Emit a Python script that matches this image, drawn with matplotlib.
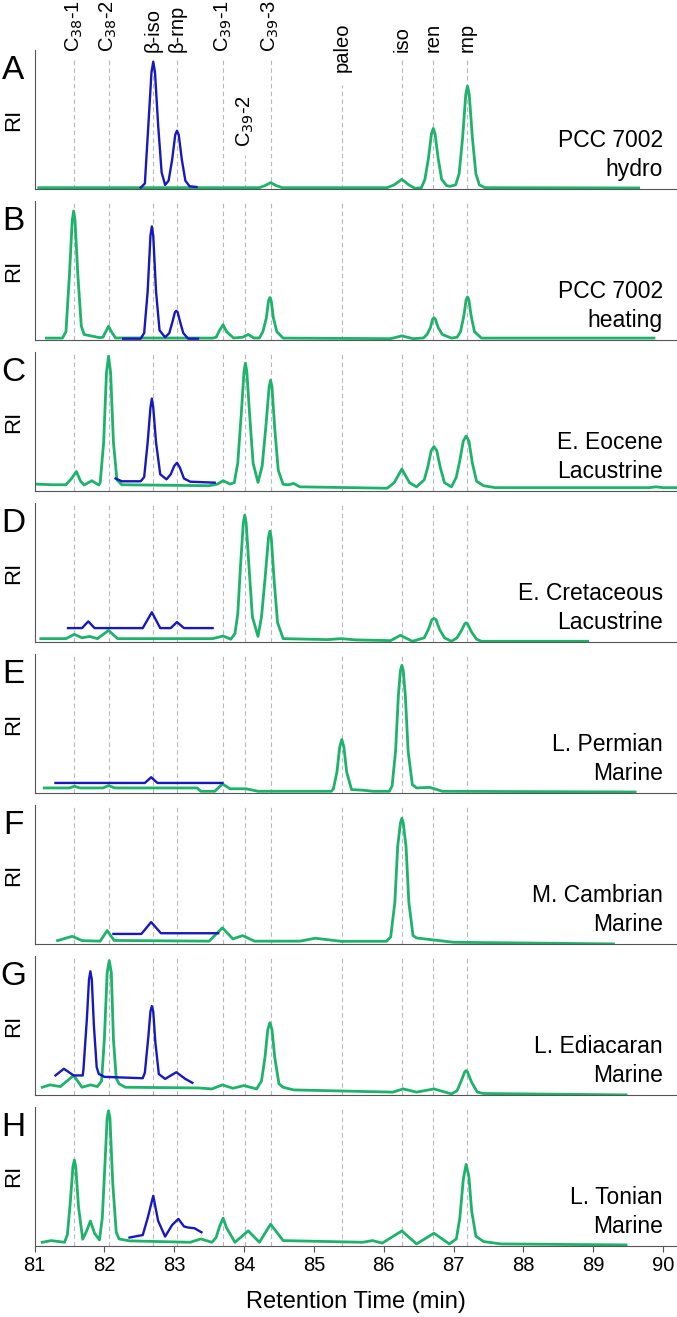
import matplotlib
matplotlib.use("Agg")
import matplotlib.pyplot as plt
import matplotlib.transforms as mtransforms

plt.rcParams['font.family'] = ['Liberation Sans', 'DejaVu Sans']

# compound positions (min) and labels
peak_names = ['C$_{38}$-1', 'C$_{38}$-2', 'β-iso', 'β-rnp', 'C$_{39}$-1', 'C$_{39}$-2',
              'C$_{39}$-3', 'paleo', 'iso', 'ren', 'rnp']
peak_rt = [81.57, 82.06, 82.70, 83.04, 83.70, 84.02, 84.38, 85.41, 86.26, 86.71, 87.20]

panel_letters = ['A', 'B', 'C', 'D', 'E', 'F', 'G', 'H']
samples = ['PCC 7002\nhydro', 'PCC 7002\nheating', 'E. Eocene\nLacustrine',
           'E. Cretaceous\nLacustrine', 'L. Permian\nMarine', 'M. Cambrian\nMarine',
           'L. Ediacaran\nMarine', 'L. Tonian\nMarine']

# traces: (retention time, relative intensity)
green_a = [(81.06, 0.01), (84.22, 0.01), (84.30, 0.025), (84.38, 0.046), (84.46, 0.025), (84.55, 0.01),
           (86.05, 0.01), (86.15, 0.03), (86.26, 0.07), (86.36, 0.03), (86.45, 0.005),
           (86.54, 0.01), (86.59, 0.07), (86.64, 0.22), (86.685, 0.40), (86.71, 0.436), (86.735, 0.40),
           (86.78, 0.22), (86.83, 0.07), (86.90, 0.025), (86.95, 0.02),
           (87.03, 0.03), (87.08, 0.11), (87.13, 0.37), (87.175, 0.68), (87.20, 0.741), (87.225, 0.68),
           (87.27, 0.37), (87.32, 0.11), (87.37, 0.03), (87.45, 0.01), (89.65, 0.008)]
blue_a = [(82.52, 0.01), (82.58, 0.04), (82.63, 0.46), (82.675, 0.84), (82.70, 0.916), (82.725, 0.84),
          (82.77, 0.46), (82.82, 0.12), (82.87, 0.03), (82.92, 0.06), (82.97, 0.21), (83.015, 0.39),
          (83.04, 0.42), (83.065, 0.39), (83.11, 0.21), (83.16, 0.06), (83.22, 0.02), (83.32, 0.015)]

green_b = [(81.17, 0.014), (81.40, 0.014), (81.45, 0.06), (81.50, 0.47), (81.54, 0.86), (81.56, 0.928),
           (81.58, 0.86), (81.62, 0.47), (81.67, 0.10), (81.71, 0.04), (81.93, 0.017),
           (81.98, 0.02), (82.02, 0.06), (82.06, 0.10), (82.10, 0.06), (82.16, 0.015),
           (83.55, 0.014), (83.60, 0.02), (83.65, 0.07), (83.70, 0.11), (83.75, 0.06), (83.85, 0.015),
           (83.98, 0.02), (84.06, 0.04), (84.14, 0.015),
           (84.22, 0.015), (84.27, 0.06), (84.32, 0.16), (84.35, 0.28), (84.37, 0.306), (84.39, 0.28),
           (84.42, 0.16), (84.47, 0.06), (84.56, 0.014), (86.10, 0.01), (86.26, 0.03), (86.42, 0.01),
           (86.57, 0.015), (86.62, 0.04), (86.67, 0.09), (86.70, 0.15), (86.72, 0.16), (86.74, 0.15),
           (86.78, 0.09), (86.84, 0.04), (86.97, 0.014),
           (87.05, 0.02), (87.10, 0.06), (87.15, 0.18), (87.18, 0.29), (87.20, 0.31), (87.22, 0.29),
           (87.25, 0.18), (87.30, 0.06), (87.40, 0.014), (89.87, 0.014)]
blue_b = [(82.27, 0.01), (82.52, 0.01), (82.57, 0.05), (82.62, 0.35), (82.66, 0.75), (82.68, 0.817),
          (82.70, 0.75), (82.74, 0.35), (82.79, 0.07), (82.87, 0.02), (82.93, 0.05), (82.98, 0.14),
          (83.01, 0.20), (83.03, 0.21), (83.05, 0.20), (83.08, 0.14), (83.13, 0.05), (83.20, 0.01),
          (83.34, 0.01)]

green_c = [(81.01, 0.05), (81.25, 0.045), (81.45, 0.045), (81.53, 0.09), (81.60, 0.14), (81.66, 0.07),
           (81.71, 0.043), (81.82, 0.074), (81.92, 0.043),
           (81.94, 0.06), (81.99, 0.35), (82.03, 0.85), (82.06, 0.969), (82.09, 0.85), (82.13, 0.35),
           (82.18, 0.08), (82.25, 0.045), (83.50, 0.038), (83.62, 0.05), (83.70, 0.074), (83.80, 0.05),
           (83.86, 0.06), (83.91, 0.20), (83.96, 0.55), (84.00, 0.86), (84.02, 0.92), (84.04, 0.86),
           (84.08, 0.55), (84.13, 0.20), (84.20, 0.062),
           (84.26, 0.18), (84.31, 0.45), (84.36, 0.75), (84.38, 0.797), (84.40, 0.75), (84.44, 0.45),
           (84.49, 0.15), (84.56, 0.048), (84.64, 0.045), (84.71, 0.055), (84.80, 0.03),
           (86.05, 0.02), (86.15, 0.06), (86.26, 0.158), (86.37, 0.06), (86.47, 0.03),
           (86.58, 0.08), (86.63, 0.17), (86.68, 0.29), (86.72, 0.32), (86.76, 0.29), (86.81, 0.17),
           (86.87, 0.06), (86.97, 0.03),
           (87.04, 0.10), (87.09, 0.22), (87.14, 0.36), (87.18, 0.395), (87.22, 0.36), (87.27, 0.20),
           (87.33, 0.07), (87.43, 0.038), (87.60, 0.024), (89.80, 0.024), (89.90, 0.03), (90.00, 0.024),
           (90.20, 0.024)]
blue_c = [(82.16, 0.09), (82.25, 0.07), (82.52, 0.07), (82.57, 0.10), (82.62, 0.35), (82.66, 0.60),
          (82.68, 0.665), (82.70, 0.60), (82.74, 0.35), (82.80, 0.12), (82.89, 0.084), (82.95, 0.12),
          (83.00, 0.18), (83.04, 0.203), (83.08, 0.17), (83.14, 0.09), (83.23, 0.067), (83.58, 0.06)]

green_d = [(81.09, 0.024), (81.45, 0.024), (81.57, 0.055), (81.68, 0.03), (81.79, 0.04), (81.90, 0.024),
           (82.06, 0.083), (82.19, 0.024), (83.55, 0.024), (83.70, 0.043), (83.81, 0.02),
           (83.87, 0.06), (83.91, 0.20), (83.95, 0.55), (83.99, 0.86), (84.01, 0.912), (84.03, 0.86),
           (84.07, 0.55), (84.12, 0.18), (84.20, 0.04),
           (84.25, 0.18), (84.30, 0.45), (84.35, 0.75), (84.37, 0.798), (84.39, 0.75), (84.43, 0.45),
           (84.48, 0.14), (84.56, 0.024), (85.20, 0.017), (85.39, 0.024), (85.60, 0.015), (86.10, 0.01),
           (86.24, 0.048), (86.41, 0.005),
           (86.58, 0.03), (86.64, 0.09), (86.69, 0.16), (86.72, 0.17), (86.75, 0.16), (86.80, 0.09),
           (86.87, 0.03), (86.97, 0.005),
           (87.05, 0.03), (87.11, 0.08), (87.16, 0.13), (87.18, 0.138), (87.20, 0.13), (87.26, 0.07),
           (87.33, 0.02), (87.40, 0.005), (88.92, 0.005)]
blue_d = [(81.48, 0.10), (81.68, 0.10), (81.77, 0.148), (81.86, 0.10), (82.55, 0.10), (82.68, 0.214),
          (82.80, 0.10), (82.95, 0.10), (83.04, 0.143), (83.14, 0.10), (83.55, 0.10)]

green_e = [(81.14, 0.036), (81.50, 0.036), (81.57, 0.048), (81.65, 0.036), (81.98, 0.036), (82.06, 0.053),
           (82.15, 0.036), (83.33, 0.036), (83.38, 0.012), (83.58, 0.012), (83.69, 0.065), (83.80, 0.03),
           (84.03, 0.03), (84.20, 0.012), (85.25, 0.012),
           (85.28, 0.03), (85.33, 0.15), (85.37, 0.33), (85.40, 0.384), (85.43, 0.33), (85.47, 0.15),
           (85.54, 0.024), (85.70, 0.02), (85.85, 0.012), (86.08, 0.012),
           (86.12, 0.05), (86.17, 0.30), (86.21, 0.70), (86.24, 0.88), (86.26, 0.918), (86.28, 0.88),
           (86.31, 0.70), (86.35, 0.30), (86.41, 0.06), (86.47, 0.036), (86.66, 0.04), (86.84, 0.012),
           (89.60, 0.007)]
blue_e = [(81.30, 0.072), (82.58, 0.072), (82.67, 0.113), (82.76, 0.072), (83.69, 0.072)]

green_f = [(81.33, 0.024), (81.54, 0.055), (81.68, 0.024), (81.94, 0.02), (82.04, 0.096), (82.14, 0.025),
           (83.50, 0.02), (83.69, 0.116), (83.84, 0.036), (83.98, 0.06), (84.15, 0.02), (84.80, 0.02),
           (85.02, 0.041), (85.39, 0.019), (86.04, 0.019),
           (86.10, 0.05), (86.16, 0.30), (86.20, 0.70), (86.24, 0.87), (86.26, 0.904), (86.28, 0.87),
           (86.32, 0.70), (86.36, 0.30), (86.42, 0.06), (86.47, 0.043), (86.69, 0.03), (87.00, 0.012),
           (89.29, 0.0)]
blue_f = [(82.13, 0.072), (82.53, 0.072), (82.67, 0.157), (82.81, 0.077), (83.63, 0.077)]

green_g = [(81.11, 0.055), (81.22, 0.072), (81.37, 0.06), (81.56, 0.14), (81.68, 0.055), (81.80, 0.072),
           (81.90, 0.06), (81.96, 0.10), (82.00, 0.40), (82.04, 0.88), (82.07, 0.966), (82.10, 0.88),
           (82.13, 0.40), (82.17, 0.12), (82.21, 0.08), (82.30, 0.055), (83.35, 0.05), (83.54, 0.043),
           (83.69, 0.072), (83.84, 0.048), (84.00, 0.067), (84.18, 0.043),
           (84.25, 0.10), (84.30, 0.27), (84.34, 0.47), (84.37, 0.519), (84.40, 0.47), (84.44, 0.27),
           (84.50, 0.08), (84.56, 0.055), (84.71, 0.036), (86.13, 0.02), (86.28, 0.043), (86.47, 0.02),
           (86.72, 0.043), (86.97, 0.007),
           (87.05, 0.03), (87.11, 0.10), (87.16, 0.165), (87.18, 0.175), (87.20, 0.165), (87.26, 0.09),
           (87.34, 0.02), (87.43, 0.01), (89.47, 0.0)]
blue_g = [(81.30, 0.14), (81.42, 0.188), (81.56, 0.14), (81.69, 0.14),
          (81.70, 0.18), (81.75, 0.55), (81.78, 0.83), (81.80, 0.889), (81.82, 0.83), (81.85, 0.50),
          (81.89, 0.20), (81.92, 0.151), (82.00, 0.13), (82.55, 0.12),
          (82.58, 0.16), (82.63, 0.42), (82.66, 0.60), (82.68, 0.639), (82.70, 0.60), (82.73, 0.38),
          (82.78, 0.15), (82.87, 0.115), (83.03, 0.163), (83.16, 0.115), (83.26, 0.087)]

green_h = [(81.11, 0.026), (81.24, 0.038), (81.43, 0.026),
           (81.47, 0.08), (81.51, 0.30), (81.55, 0.57), (81.57, 0.617), (81.59, 0.57), (81.63, 0.28),
           (81.69, 0.048), (81.74, 0.10), (81.80, 0.179), (81.86, 0.09), (81.93, 0.043),
           (81.97, 0.20), (82.00, 0.50), (82.04, 0.92), (82.06, 0.971), (82.08, 0.92), (82.12, 0.45),
           (82.17, 0.10), (82.21, 0.05), (82.36, 0.036), (83.23, 0.026), (83.38, 0.05), (83.54, 0.026),
           (83.60, 0.06), (83.65, 0.14), (83.70, 0.199), (83.75, 0.13), (83.87, 0.026),
           (84.06, 0.108), (84.22, 0.026), (84.38, 0.156), (84.56, 0.038), (85.70, 0.026),
           (85.84, 0.038), (85.98, 0.02), (86.26, 0.108), (86.47, 0.014), (86.72, 0.091), (86.94, 0.014),
           (87.04, 0.05), (87.09, 0.20), (87.14, 0.48), (87.18, 0.586), (87.22, 0.50), (87.26, 0.25),
           (87.32, 0.07), (87.43, 0.031), (87.68, 0.014), (89.47, 0.007)]
blue_h = [(82.36, 0.06), (82.55, 0.078), (82.62, 0.20), (82.70, 0.36), (82.77, 0.18), (82.87, 0.067),
          (82.97, 0.15), (83.06, 0.194), (83.14, 0.14), (83.20, 0.132), (83.29, 0.127), (83.39, 0.098)]

greens = [green_a, green_b, green_c, green_d, green_e, green_f, green_g, green_h]
blues = [blue_a, blue_b, blue_c, blue_d, blue_e, blue_f, blue_g, blue_h]

GREEN = '#1db36b'
BLUE = '#1818c0'
DASH = '#b8b8b8'

fig = plt.figure(figsize=(6.77, 13.17), dpi=100)
gs = fig.add_gridspec(8, 1, left=0.051, right=1.0, top=0.962, bottom=0.054, hspace=0.086)

axes = []
for i in range(8):
    ax = fig.add_subplot(gs[i])
    axes.append(ax)
    ax.set_xlim(81, 90.2)
    ax.set_ylim(0, 1)
    ax.spines['top'].set_visible(False)
    ax.spines['right'].set_visible(False)
    ax.spines['left'].set_color('#555555')
    ax.spines['bottom'].set_color('#555555')
    ax.set_yticks([])

    # dashed guide lines
    for name, rt in zip(peak_names, peak_rt):
        ymax = 1.0
        if i == 0:
            ymax = 0.94
            if name == 'paleo':
                ymax = 0.75
            elif name == 'C$_{39}$-2':
                ymax = 0.245
        ax.axvline(rt, ymax=ymax, color=DASH, lw=0.8, ls=(0, (4, 3)), zorder=0)

    gx, gy = zip(*greens[i])
    ax.plot(gx, gy, color=GREEN, lw=2.0, solid_joinstyle='round', zorder=2)
    bx, by = zip(*blues[i])
    ax.plot(bx, by, color=BLUE, lw=1.7, solid_joinstyle='round', zorder=3)

    ax.text(-0.033, 0.855, panel_letters[i], transform=ax.transAxes, fontsize=24,
            ha='center', va='center', clip_on=False)
    ax.text(-0.033, 0.50, 'RI', transform=ax.transAxes, fontsize=16, rotation=90,
            ha='center', va='center', clip_on=False)
    ax.text(0.978, 0.06, samples[i], transform=ax.transAxes, fontsize=16.5,
            ha='right', va='bottom', linespacing=1.3)

    ax.set_xticks(range(81, 91))
    if i < 7:
        ax.tick_params(axis='x', length=0, labelbottom=False)
    else:
        ax.tick_params(axis='x', length=4, width=0.8, color='#555555', labelsize=14.5)
        ax.set_xlabel('Retention Time (min)', fontsize=17, labelpad=11)

# compound labels above / inside the top panel
trans = mtransforms.blended_transform_factory(axes[0].transData, axes[0].transAxes)
for name, rt in zip(peak_names, peak_rt):
    y = 0.986
    if name == 'paleo':
        y = 0.842
    elif name == 'C$_{39}$-2':
        y = 0.30
    axes[0].text(rt, y, name, transform=trans, rotation=90, fontsize=14.5,
                 ha='center', va='bottom', clip_on=False)

fig.savefig('out.png', dpi=100)
